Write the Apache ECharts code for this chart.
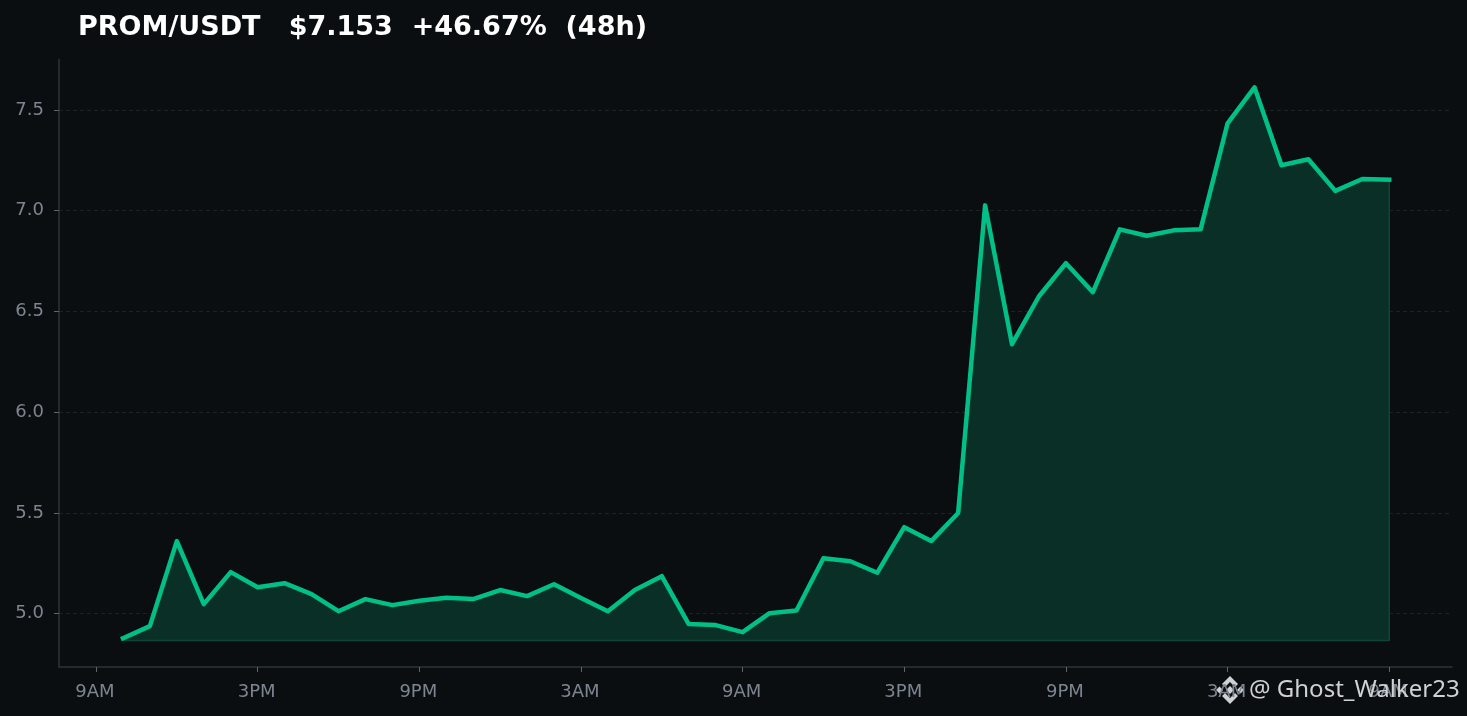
<!DOCTYPE html>
<html><head><meta charset="utf-8">
<style>html,body{margin:0;padding:0;background:#0a0e11}#c{width:1467px;height:716px}</style>
<script src="https://cdn.jsdelivr.net/npm/echarts@6/dist/echarts.min.js"></script>
</head><body><div id="c"></div>
<script>
const hours = [1,2,3,4,5,6,7,8,9,10,11,12,13,14,15,16,17,18,19,20,21,22,23,24,25,26,27,28,29,30,31,32,33,34,35,36,37,38,39,40,41,42,43,44,45,46,47,48];
const prices = [4.878,4.938,5.36,5.047,5.206,5.131,5.151,5.097,5.012,5.072,5.042,5.064,5.079,5.072,5.117,5.087,5.146,5.077,5.012,5.117,5.186,4.948,4.943,4.908,5.002,5.015,5.275,5.26,5.203,5.429,5.36,5.499,7.026,6.337,6.575,6.739,6.595,6.907,6.875,6.902,6.907,7.433,7.612,7.225,7.255,7.098,7.157,7.153];
const tickHours = [0,6,12,18,24,30,36,42,48];
const tickLabels = ['9AM','3PM','9PM','3AM','9AM','3PM','9PM','3AM','9AM'];
const yTicks = [5,5.5,6,6.5,7,7.5];
const baseValue = 4.867;
const titleText = 'PROM/USDT   $7.153  +46.67%  (48h)';
const watermark = '@ Ghost_Walker23';

const chart = echarts.init(document.getElementById('c'), null, {renderer:'canvas'});
const axisCol = '#2e323a', labelCol = '#7d8590', wm = '#cfd1d3';
chart.setOption({
  animation:false,
  backgroundColor:'#0a0e11',
  title:{text:titleText,left:73,top:9,textStyle:{color:'#ffffff',fontFamily:'DejaVu Sans',fontWeight:'bold',fontSize:27}},
  grid:{left:59,right:15,top:59.5,bottom:49},
  xAxis:{type:'value',min:-1.373,max:50.33,
    axisLine:{show:true,onZero:false,lineStyle:{color:axisCol,width:1.5}},
    axisTick:{show:true,length:5,customValues:tickHours,lineStyle:{color:'#60656d',width:1}},
    axisLabel:{customValues:tickHours,margin:16,color:labelCol,fontFamily:'DejaVu Sans',fontSize:18,padding:[0,2,0,0],
      formatter:v=>tickLabels[tickHours.indexOf(v)]},
    splitLine:{show:false}},
  yAxis:{type:'value',min:4.735,max:7.75,
    axisLine:{show:true,onZero:false,lineStyle:{color:axisCol,width:1.5}},
    axisTick:{show:true,length:5,customValues:yTicks,lineStyle:{color:'#60656d',width:1}},
    axisLabel:{customValues:yTicks,margin:15,padding:[8,0,0,0],color:labelCol,fontFamily:'DejaVu Sans',fontSize:18,formatter:v=>v.toFixed(1)},
    splitLine:{show:true,customValues:yTicks,lineStyle:{color:'#1d2227',type:[4,3],width:1}}},
  series:[
    {type:'line',data:hours.map((h,i)=>[h,prices[i]]),showSymbol:false,symbol:'none',z:2,
     lineStyle:{width:0},
     areaStyle:{origin:baseValue,color:'#092f27',opacity:1}},
    {type:'line',data:[[hours[0],baseValue],[hours[hours.length-1],baseValue],[hours[hours.length-1],prices[prices.length-1]]],
     showSymbol:false,symbol:'none',silent:true,z:3,lineStyle:{color:'#0e4536',width:1.5}},
    {type:'line',data:hours.map((h,i)=>[h,prices[i]]),showSymbol:false,symbol:'none',z:4,
     lineStyle:{color:'#00c087',width:4.5,join:'round',cap:'square'}}
  ],
  graphic:[
    {type:'text',left:1249,top:678,z:10,style:{text:watermark,fill:wm,font:'24px "Noto Sans"'}},
    {type:'group',x:1230,y:690,z:10,children:[
      {type:'polygon',shape:{points:[[0,-14],[8,-6],[5,-3],[0,-8],[-5,-3],[-8,-6]]},style:{fill:wm}},
      {type:'polygon',shape:{points:[[0,14],[8,6],[5,3],[0,8],[-5,3],[-8,6]]},style:{fill:wm}},
      {type:'polygon',shape:{points:[[-14,0],[-10.5,-3.5],[-7,0],[-10.5,3.5]]},style:{fill:wm}},
      {type:'polygon',shape:{points:[[14,0],[10.5,-3.5],[7,0],[10.5,3.5]]},style:{fill:wm}},
      {type:'polygon',shape:{points:[[0,-4],[4,0],[0,4],[-4,0]]},style:{fill:wm}}
    ]}
  ]
});
</script></body></html>
